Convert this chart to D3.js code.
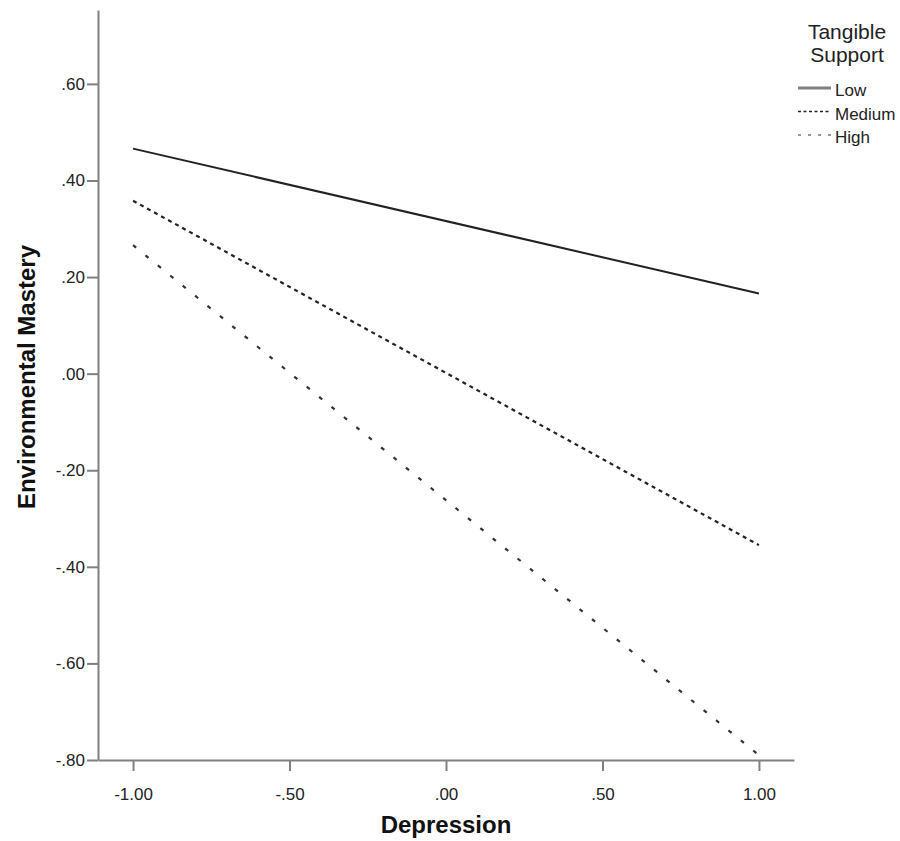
<!DOCTYPE html>
<html>
<head>
<meta charset="utf-8">
<script src="https://cdn.jsdelivr.net/npm/d3@7"></script>
<style>
  body { margin: 0; background: #fff; }
  text { font-family: 'Liberation Sans', Arial, sans-serif; }
</style>
</head>
<body>
<div id="chart"></div>
<script>
let depression = [-1, 1]
let lowValues = [0.466, 0.166]
let mediumValues = [0.358, -0.355]
let highValues = [0.266, -0.79]

let xTicks = [-1, -0.5, 0, 0.5, 1]
let yTicks = [0.6, 0.4, 0.2, 0, -0.2, -0.4, -0.6, -0.8]

let groups = ['Low', 'Medium', 'High']

let width = 900
let height = 841

let svg = d3
  .select('#chart')
  .append('svg')
  .attr('width', width)
  .attr('height', height)

let xScale = d3.scaleLinear().domain([-1.112, 1.112]).range([98, 794])
let yScale = d3.scaleLinear().domain([-0.8, 0.753]).range([760, 10])

// SPSS style labels: .60, -.80, -1.00
let fmt = d => {
  let s = Math.abs(d).toFixed(2).replace(/^0\./, '.')
  return (d < 0 ? '-' : '') + s
}

let series = [
  { name: groups[0], values: lowValues, dash: null, color: '#222', width: 2 },
  { name: groups[1], values: mediumValues, dash: '4,4', color: '#222', width: 2.2 },
  { name: groups[2], values: highValues, dash: '4,12', color: '#333', width: 2.2 }
]

// axes
let xAxis = d3
  .axisBottom(xScale)
  .tickValues(xTicks)
  .tickFormat(fmt)
  .tickSizeInner(11)
  .tickSizeOuter(0)

let yAxis = d3
  .axisLeft(yScale)
  .tickValues(yTicks)
  .tickFormat(fmt)
  .tickSizeInner(11)
  .tickSizeOuter(0)

let gx = svg
  .append('g')
  .attr('transform', 'translate(0,760)')
  .call(xAxis)

let gy = svg
  .append('g')
  .attr('transform', 'translate(98,0)')
  .call(yAxis)

for (let g of [gx, gy]) {
  g.selectAll('path, line').attr('stroke', '#808080').attr('stroke-width', 2)
  g.selectAll('text')
    .attr('font-size', 17)
    .attr('fill', '#222')
    .style('font-family', "'Liberation Sans', Arial, sans-serif")
}
gx.selectAll('text').attr('dy', '1.55em')
gy.selectAll('text').attr('x', -13)

// lines
let line = d3
  .line()
  .x((d, i) => xScale(depression[i]))
  .y(d => yScale(d))

svg
  .selectAll('.series')
  .data(series)
  .enter()
  .append('path')
  .attr('d', d => line(d.values))
  .attr('fill', 'none')
  .attr('stroke', d => d.color)
  .attr('stroke-width', d => d.width)
  .attr('stroke-dasharray', d => d.dash)

// axis titles
svg
  .append('text')
  .text('Depression')
  .attr('x', 446)
  .attr('y', 833)
  .attr('text-anchor', 'middle')
  .attr('font-size', 24)
  .attr('font-weight', 'bold')
  .attr('fill', '#111')

svg
  .append('text')
  .text('Environmental Mastery')
  .attr('transform', 'translate(35,377) rotate(-90)')
  .attr('text-anchor', 'middle')
  .attr('font-size', 24)
  .attr('font-weight', 'bold')
  .attr('fill', '#111')

// legend
let legend = svg.append('g')

legend
  .append('text')
  .attr('x', 847)
  .attr('y', 39)
  .attr('text-anchor', 'middle')
  .attr('font-size', 21)
  .attr('fill', '#222')
  .text('Tangible')

legend
  .append('text')
  .attr('x', 847)
  .attr('y', 62)
  .attr('text-anchor', 'middle')
  .attr('font-size', 21)
  .attr('fill', '#222')
  .text('Support')

let legendItems = [
  { name: groups[0], color: '#808080', dash: null, width: 3 },
  { name: groups[1], color: '#222', dash: '3,2.5', width: 1.5 },
  { name: groups[2], color: '#777', dash: '3,7', width: 1.5 }
]

legend
  .selectAll('.legend-line')
  .data(legendItems)
  .enter()
  .append('line')
  .attr('x1', 798)
  .attr('x2', 831)
  .attr('y1', (d, i) => 88 + i * 23.5)
  .attr('y2', (d, i) => 88 + i * 23.5)
  .attr('stroke', d => d.color)
  .attr('stroke-width', d => d.width)
  .attr('stroke-dasharray', d => d.dash)

legend
  .selectAll('.legend-label')
  .data(legendItems)
  .enter()
  .append('text')
  .attr('x', 835)
  .attr('y', (d, i) => 96 + i * 23.5)
  .attr('font-size', 17)
  .attr('fill', '#222')
  .text(d => d.name)
</script>
</body>
</html>
